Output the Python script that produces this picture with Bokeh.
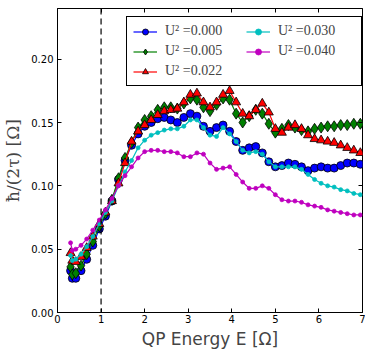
from bokeh.plotting import figure
from bokeh.models import (Span, Legend, LegendItem, LinearAxis, FixedTicker,
                          NumeralTickFormatter, Range1d, CustomJSTickFormatter)
from bokeh.embed import file_html
from bokeh.resources import INLINE

# QP energy grid
E = [0.30, 0.34, 0.42, 0.54, 0.67, 0.81, 0.96, 1.10, 1.25, 1.40, 1.55, 1.70,
     1.85, 2.00, 2.15, 2.30, 2.45, 2.60, 2.75, 2.90, 3.05, 3.20, 3.35, 3.50,
     3.65, 3.80, 3.95, 4.10, 4.25, 4.40, 4.55, 4.70, 4.85, 5.00, 5.15, 5.30,
     5.45, 5.60, 5.75, 5.90, 6.05, 6.20, 6.35, 6.50, 6.65, 6.80, 6.95]

u000 = [0.033, 0.027, 0.027, 0.033, 0.042, 0.053, 0.066, 0.076, 0.088, 0.105,
        0.120, 0.132, 0.141, 0.147, 0.150, 0.153, 0.154, 0.152, 0.150, 0.154,
        0.157, 0.155, 0.147, 0.143, 0.146, 0.148, 0.143, 0.135, 0.128, 0.130,
        0.131, 0.126, 0.119, 0.115, 0.116, 0.118, 0.117, 0.115, 0.112, 0.114,
        0.115, 0.114, 0.114, 0.116, 0.118, 0.118, 0.117]
u005 = [0.036, 0.030, 0.031, 0.037, 0.046, 0.056, 0.068, 0.078, 0.089, 0.106,
        0.122, 0.134, 0.146, 0.152, 0.155, 0.160, 0.162, 0.162, 0.161, 0.165,
        0.169, 0.168, 0.162, 0.159, 0.164, 0.169, 0.168, 0.157, 0.150, 0.155,
        0.160, 0.157, 0.149, 0.142, 0.145, 0.148, 0.146, 0.144, 0.143, 0.145,
        0.146, 0.147, 0.147, 0.148, 0.148, 0.149, 0.149]
u022 = [0.047, 0.041, 0.040, 0.044, 0.051, 0.060, 0.070, 0.079, 0.088, 0.102,
        0.118, 0.135, 0.143, 0.148, 0.152, 0.156, 0.159, 0.160, 0.161, 0.166,
        0.172, 0.173, 0.166, 0.162, 0.166, 0.172, 0.175, 0.166, 0.157, 0.155,
        0.160, 0.165, 0.158, 0.145, 0.142, 0.146, 0.148, 0.145, 0.140, 0.137,
        0.136, 0.135, 0.134, 0.132, 0.130, 0.128, 0.126]
u030 = [0.045, 0.041, 0.042, 0.046, 0.052, 0.060, 0.070, 0.079, 0.088, 0.100,
        0.111, 0.120, 0.130, 0.136, 0.140, 0.142, 0.144, 0.145, 0.145, 0.147,
        0.152, 0.152, 0.146, 0.140, 0.139, 0.146, 0.141, 0.135, 0.128, 0.126,
        0.127, 0.125, 0.119, 0.115, 0.115, 0.115, 0.115, 0.113, 0.109, 0.105,
        0.102, 0.100, 0.099, 0.097, 0.096, 0.094, 0.093]
u040 = [0.055, 0.049, 0.050, 0.053, 0.058, 0.065, 0.073, 0.081, 0.090, 0.100,
        0.108, 0.115, 0.122, 0.127, 0.128, 0.128, 0.127, 0.127, 0.126, 0.123,
        0.123, 0.126, 0.125, 0.118, 0.113, 0.114, 0.115, 0.109, 0.103, 0.098,
        0.098, 0.100, 0.098, 0.093, 0.089, 0.088, 0.088, 0.087, 0.085, 0.084,
        0.083, 0.081, 0.080, 0.079, 0.078, 0.077, 0.077]

labels = ["U\u00b2 =0.000", "U\u00b2 =0.005", "U\u00b2 =0.022",
          "U\u00b2 =0.030", "U\u00b2 =0.040"]
x_ticks = [0, 1, 2, 3, 4, 5, 6, 7]
y_ticks = [0.00, 0.05, 0.10, 0.15, 0.20]
gap_energy = 1.0

p = figure(frame_width=305, frame_height=304,
           x_range=Range1d(0, 7), y_range=Range1d(0, 0.24),
           output_backend="svg", toolbar_location=None,
           min_border_left=50, min_border_right=3, min_border_top=8,
           min_border_bottom=39)
p.grid.visible = False
p.outline_line_color = "black"
p.outline_line_width = 1
p.background_fill_color = "white"
p.border_fill_color = "white"

p.xaxis.ticker = FixedTicker(ticks=x_ticks)
p.yaxis.ticker = FixedTicker(ticks=y_ticks)
p.yaxis.formatter = NumeralTickFormatter(format="0.00")
p.xaxis.axis_label = "QP Energy E [\u03a9]"
p.yaxis.axis_label = "\u0127/(2\u03c4) [\u03a9]"
for ax in (p.xaxis, p.yaxis):
    ax.major_tick_in = 4
    ax.major_tick_out = 0
    ax.minor_tick_line_color = None
    ax.axis_line_color = "black"
    ax.major_label_text_font = "DejaVu Sans"
    ax.major_label_text_font_size = "10px"
    ax.major_label_text_color = "black"
p.xaxis.major_label_standoff = 2
p.yaxis.major_label_standoff = 4
p.xaxis.axis_label_text_font = "DejaVu Sans"
p.xaxis.axis_label_text_font_size = "17px"
p.xaxis.axis_label_text_font_style = "normal"
p.xaxis.axis_label_standoff = 3
p.yaxis.axis_label_text_font = "DejaVu Serif"
p.yaxis.axis_label_text_font_size = "17px"
p.yaxis.axis_label_text_font_style = "normal"
p.yaxis.axis_label_standoff = 5

for loc, ticks in (("right", y_ticks), ("above", x_ticks)):
    ax = LinearAxis(ticker=FixedTicker(ticks=ticks),
                    formatter=CustomJSTickFormatter(code="return ''"))
    ax.major_tick_in = 4
    ax.major_tick_out = 0
    ax.minor_tick_line_color = None
    ax.axis_line_color = None
    ax.major_label_standoff = 0
    p.add_layout(ax, loc)

p.add_layout(Span(location=gap_energy, dimension="height", line_color="black",
                  line_dash="6 4", line_width=1.2))

specs = [
    (u000, "#0000ff", "circle", 8, "black"),
    (u005, "#008000", "diamond", 11, "black"),
    (u022, "#ff0000", "triangle", 9, "black"),
    (u030, "#00bfbf", "circle", 4, "#00bfbf"),
    (u040, "#bf00bf", "circle", 4, "#bf00bf"),
]
items = []
for (ys, col, mk, sz, edge), lab in zip(specs, labels):
    r1 = p.line(E, ys, line_color=col, line_width=1.2)
    r2 = p.scatter(E, ys, marker=mk, size=sz, fill_color=col, line_color=edge,
                   line_width=0.8)
    items.append(LegendItem(label=lab, renderers=[r1, r2]))

legend = Legend(items=items, ncols=2, location=(69, 226))
legend.margin = 0
legend.padding = 6
legend.spacing = 4
legend.glyph_width = 24
legend.glyph_height = 15
legend.label_standoff = 8
legend.label_width = 77
legend.label_text_font = "Liberation Serif"
legend.label_text_font_size = "14px"
legend.border_line_color = "black"
legend.border_line_width = 1
legend.border_line_alpha = 1
legend.background_fill_alpha = 1
p.add_layout(legend)

open("out.html", "w").write(file_html(p, INLINE))
